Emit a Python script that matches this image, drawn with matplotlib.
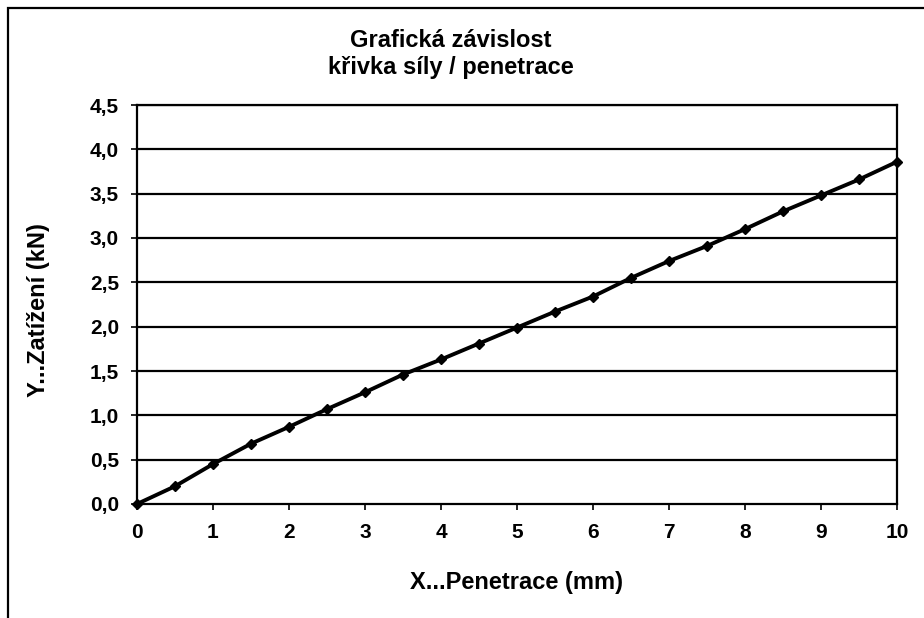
import matplotlib.pyplot as plt
import matplotlib as mpl
from matplotlib.patches import Rectangle
from matplotlib.ticker import FuncFormatter

mpl.rcParams['font.family'] = ['Liberation Sans', 'DejaVu Sans']
mpl.rcParams['font.weight'] = 'bold'

# penetration [mm] vs load [kN]
penetrace = [0, 0.5, 1.0, 1.5, 2.0, 2.5, 3.0, 3.5, 4.0, 4.5, 5.0,
             5.5, 6.0, 6.5, 7.0, 7.5, 8.0, 8.5, 9.0, 9.5, 10.0]
zatizeni = [0.0, 0.20, 0.45, 0.68, 0.87, 1.07, 1.26, 1.46, 1.63, 1.81, 1.99,
            2.17, 2.34, 2.55, 2.74, 2.91, 3.10, 3.30, 3.48, 3.66, 3.86]
x_ticks = list(range(0, 11))
y_ticks = [0.0, 0.5, 1.0, 1.5, 2.0, 2.5, 3.0, 3.5, 4.0, 4.5]

W, H = 924, 618
f = plt.figure(figsize=(W/100, H/100), dpi=100)
ax1 = f.add_axes([137/W, 1 - 504/H, 760/W, 399/H])

# outer chart frame (runs off the right and bottom edge)
f.patches.append(Rectangle((8/W, -0.05), 1.0, 1 - 8/H + 0.05,
                           transform=f.transFigure, fill=False,
                           edgecolor='k', lw=1.6))

for yv in y_ticks[1:]:
    ax1.axhline(yv, color='k', lw=1.6, zorder=1)

ax1.plot(penetrace, zatizeni, '-k', lw=2.8, marker='D', ms=5.5,
         zorder=3, clip_on=False)

ax1.set_xlim(0, 10)
ax1.set_ylim(0, 4.5)
ax1.set_xticks(x_ticks)
ax1.set_yticks(y_ticks)
ax1.yaxis.set_major_formatter(FuncFormatter(lambda v, p: f'{v:.1f}'.replace('.', ',')))
for s in ax1.spines.values():
    s.set_linewidth(1.6)
ax1.tick_params(axis='both', direction='out', length=4, width=1.2,
                labelsize=15)
ax1.tick_params(axis='x', pad=10)
ax1.tick_params(axis='y', pad=9)

f.text(517/W, 1 - 582/H, 'X...Penetrace (mm)', ha='center', va='center',
       fontsize=17, fontweight='bold')
f.text(39/W, 1 - 310/H, 'Y...Zatížení (kN)', ha='center', va='center',
       rotation=90, fontsize=17, fontweight='bold')

f.text(451/W, 1 - 54/H, 'Grafická závislost\nkřivka síly / penetrace',
       ha='center', va='center', fontsize=17, fontweight='bold',
       linespacing=1.2)

f.savefig('out.png', dpi=100)
